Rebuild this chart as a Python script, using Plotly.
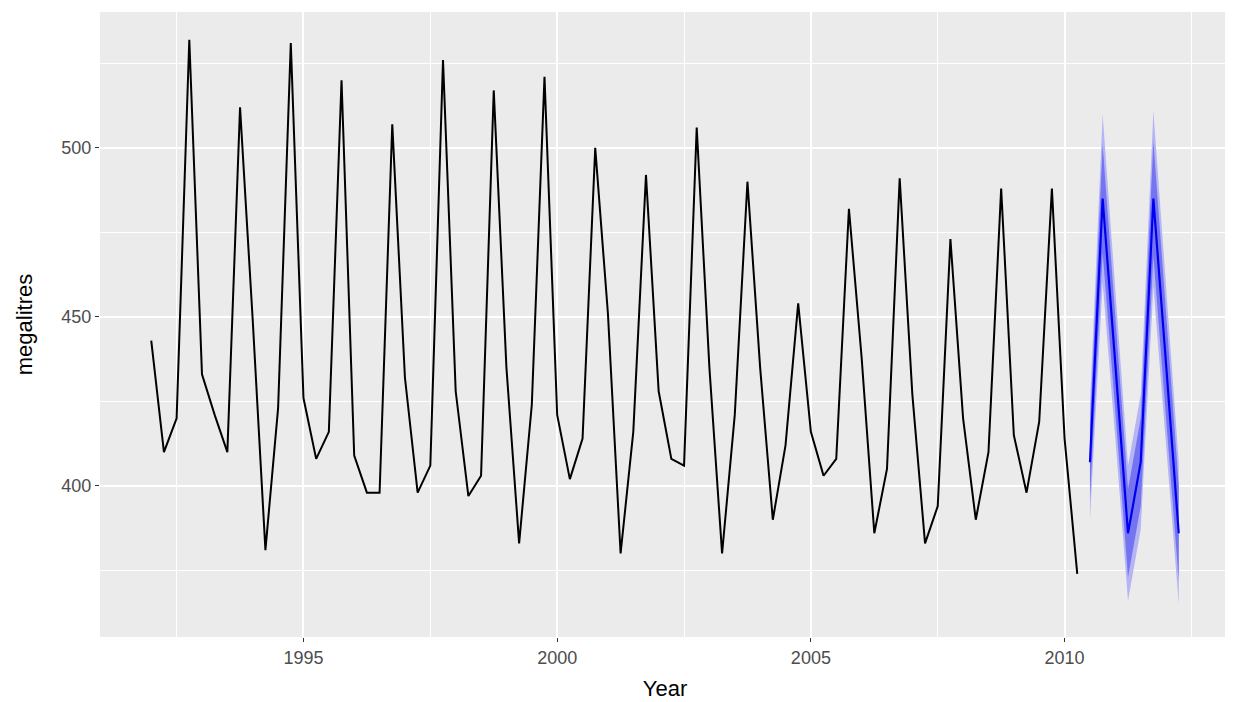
import plotly.graph_objects as go

# Observed quarterly beer production (megalitres), 1992 Q1 - 2010 Q2
start_year = 1992
beer = [443, 410, 420, 532,
        433, 421, 410, 512,
        449, 381, 423, 531,
        426, 408, 416, 520,
        409, 398, 398, 507,
        432, 398, 406, 526,
        428, 397, 403, 517,
        435, 383, 424, 521,
        421, 402, 414, 500,
        451, 380, 416, 492,
        428, 408, 406, 506,
        435, 380, 421, 490,
        435, 390, 412, 454,
        416, 403, 408, 482,
        438, 386, 405, 491,
        427, 383, 394, 473,
        420, 390, 410, 488,
        415, 398, 419, 488,
        414, 374]

# Forecast 2010 Q3 - 2012 Q2
fc_start = 2010.5
fc_mean = [407, 485, 436, 386, 407, 485, 436, 386]
fc_lo80 = [396, 469, 422, 373, 394, 468, 421, 372]
fc_hi80 = [418, 501, 450, 399, 420, 502, 451, 400]
fc_lo95 = [390, 460, 414, 366, 387, 459, 413, 365]
fc_hi95 = [424, 510, 458, 406, 427, 511, 459, 407]

x_obs = [start_year + i / 4 for i in range(len(beer))]
x_fc = [fc_start + i / 4 for i in range(len(fc_mean))]

fig = go.Figure()

def band(lo, hi, color):
    fig.add_trace(go.Scatter(
        x=x_fc + x_fc[::-1], y=hi + lo[::-1],
        fill="toself", fillcolor=color, mode="lines",
        line=dict(width=0, color=color), hoverinfo="skip", showlegend=False))

band(fc_lo95, fc_hi95, "#B5B5F6")
band(fc_lo80, fc_hi80, "#7474F0")

fig.add_trace(go.Scatter(x=x_obs, y=beer, mode="lines",
                         line=dict(color="black", width=2), showlegend=False))
fig.add_trace(go.Scatter(x=x_fc, y=fc_mean, mode="lines",
                         line=dict(color="#0000F0", width=2.2), showlegend=False))

font_family = "Liberation Sans, Arial, sans-serif"
fig.update_layout(
    width=1225, height=694,
    margin=dict(l=92, r=3, t=4, b=65),
    paper_bgcolor="white", plot_bgcolor="#EBEBEB",
    font=dict(family=font_family, color="#4D4D4D", size=18),
    showlegend=False,
)
fig.update_xaxes(
    range=[1990.99, 2013.26],
    tickvals=[1995, 2000, 2005, 2010],
    ticks="outside", ticklen=4, tickwidth=1.2, tickcolor="#333333",
    showgrid=True, gridcolor="white", gridwidth=1.6,
    minor=dict(tickvals=[1992.5, 1997.5, 2002.5, 2007.5, 2012.5],
               showgrid=True, gridcolor="white", gridwidth=0.8, ticks=""),
    zeroline=False, showline=False,
    title=dict(text="Year", font=dict(size=22, color="black"), standoff=14),
)
fig.update_yaxes(
    range=[355.3, 540.2],
    tickvals=[400, 450, 500],
    ticks="outside", ticklen=4, tickwidth=1.2, tickcolor="#333333",
    showgrid=True, gridcolor="white", gridwidth=1.6,
    minor=dict(tickvals=[375, 425, 475, 525],
               showgrid=True, gridcolor="white", gridwidth=0.8, ticks=""),
    zeroline=False, showline=False,
    title=dict(text="megalitres", font=dict(size=22, color="black"), standoff=22),
)

fig.write_html("out.html")
